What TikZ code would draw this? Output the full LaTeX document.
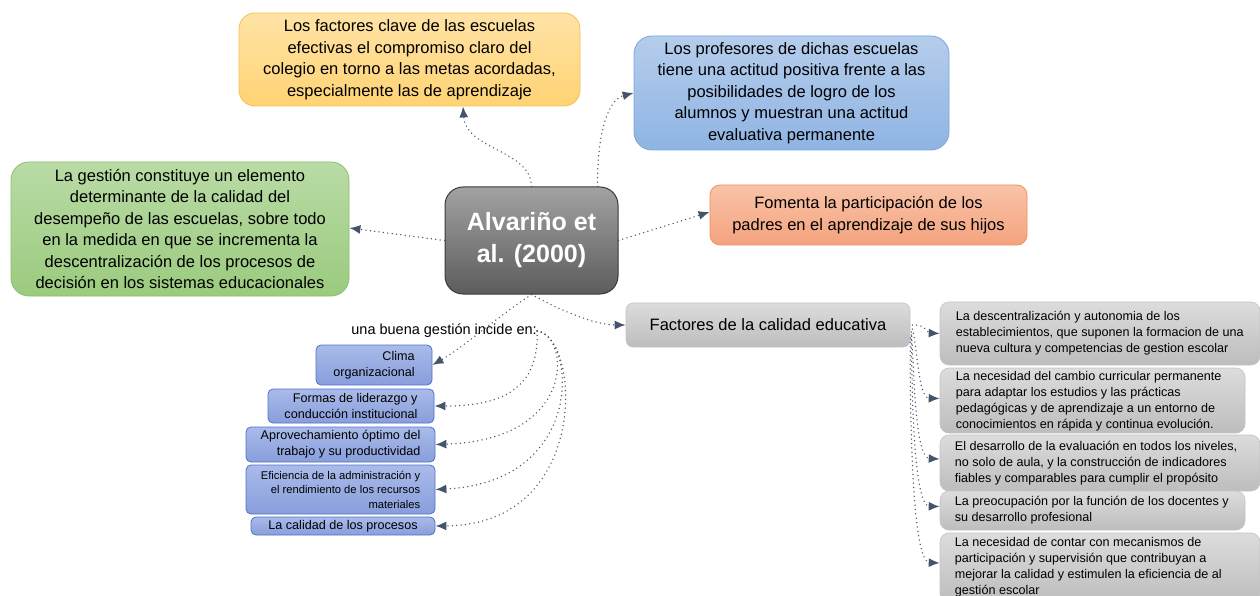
\documentclass[tikz,border=0pt]{standalone}
\usepackage{fontspec}
\setmainfont{Liberation Sans}
\usetikzlibrary{arrows.meta,calc}
\definecolor{conncol}{HTML}{44546A}
\definecolor{orT}{HTML}{FFE3A6}\definecolor{orB}{HTML}{FFD374}\definecolor{orD}{HTML}{F4C24F}
\definecolor{blT}{HTML}{B5CDEC}\definecolor{blB}{HTML}{8FB4E3}\definecolor{blD}{HTML}{7AA6DB}
\definecolor{grT}{HTML}{B9DBA6}\definecolor{grB}{HTML}{9BCB7E}\definecolor{grD}{HTML}{8BC06A}
\definecolor{ceT}{HTML}{A2A2A2}\definecolor{ceB}{HTML}{5C5C5C}\definecolor{ceD}{HTML}{3A3A3A}
\definecolor{saT}{HTML}{F9C3A8}\definecolor{saB}{HTML}{F4A37E}\definecolor{saD}{HTML}{F0925E}
\definecolor{gyT}{HTML}{DCDCDC}\definecolor{gyB}{HTML}{BDBDBD}\definecolor{gyD}{HTML}{C4C4C4}
\definecolor{sbT}{HTML}{AABBEA}\definecolor{sbB}{HTML}{889EDB}\definecolor{sbD}{HTML}{4E72C8}
\begin{document}
\begin{tikzpicture}[x=1pt,y=-1pt,
  bigtxt/.style={font=\fontsize{16.5}{21.5}\selectfont, align=center, inner sep=0pt, text=black},
  obox/.style={bigtxt, rounded corners=16pt, top color=orT, bottom color=orB, draw=orD, line width=0.8pt},
  tbbox/.style={bigtxt, rounded corners=18pt, top color=blT, bottom color=blB, draw=blD, line width=0.8pt},
  gbox/.style={bigtxt, rounded corners=18pt, top color=grT, bottom color=grB, draw=grD, line width=0.8pt},
  sbox/.style={bigtxt, rounded corners=10pt, top color=saT, bottom color=saB, draw=saD, line width=0.8pt},
  cbox/.style={font=\fontsize{25}{32}\selectfont\bfseries, text=white, align=center, inner sep=0pt,
    rounded corners=18pt, top color=ceT, bottom color=ceB, draw=ceD, line width=1pt},
  fbox/.style={bigtxt, rounded corners=7pt, top color=gyT, bottom color=gyB, draw=gyD, line width=0.6pt},
  rbox/.style={inner sep=0pt, rounded corners=9pt,
    top color=gyT, bottom color=gyB, draw=gyD, line width=0.6pt},
  rtxt/.style={font=\fontsize{12.6}{16}\selectfont, align=left, inner sep=0pt, anchor=west},
  smbox/.style={font=\fontsize{12.6}{16}\selectfont, align=right, inner sep=0pt, rounded corners=5pt,
    top color=sbT, bottom color=sbB, draw=sbD, line width=0.8pt},
  conn/.style={draw=conncol, line width=1.5pt, dash pattern=on 0pt off 4.4pt, line cap=round,
    -{Latex[length=11pt,width=9pt]}}
]
\useasboundingbox (0,0) rectangle (1260,596);
\clip (0,0) rectangle (1260,596);
\fill[white] (0,0) rectangle (1260,596);

% main nodes
\node[obox, minimum width=341pt, minimum height=93pt] (top) at (409.5,59.5)
  {Los factores clave de las escuelas\\efectivas el compromiso claro del\\colegio en torno a las metas acordadas,\\especialmente las de aprendizaje};
\node[tbbox, minimum width=315pt, minimum height=114pt] (prof) at (791.5,93)
  {Los profesores de dichas escuelas\\tiene una actitud positiva frente a las\\posibilidades de logro de los\\alumnos y muestran una actitud\\evaluativa permanente};
\node[gbox, minimum width=338pt, minimum height=134pt] (gest) at (180,229)
  {La gestión constituye un elemento\\determinante de la calidad del\\desempeño de las escuelas, sobre todo\\en la medida en que se incrementa la\\descentralización de los procesos de\\decisión en los sistemas educacionales};
\node[cbox, minimum width=173pt, minimum height=107pt] (c) at (531.5,240.5)
  {Alvariño et\\al. (2000)};
\node[sbox, minimum width=317pt, minimum height=60pt] (pad) at (868.5,215)
  {Fomenta la participación de los\\padres en el aprendizaje de sus hijos};
\node[fbox, minimum width=284pt, minimum height=44pt] (f) at (768,325)
  {Factores de la calidad educativa};

% right grey boxes
\node[rbox, minimum width=320pt, minimum height=63pt] (r1) at (1100,333.5) {};
\node[rbox, minimum width=305pt, minimum height=65pt] (r2) at (1092.5,400.5) {};
\node[rbox, minimum width=320pt, minimum height=56pt] (r3) at (1100,463) {};
\node[rbox, minimum width=305pt, minimum height=39pt] (r4) at (1092.5,510.5) {};
\node[rbox, minimum width=320pt, minimum height=70pt] (r5) at (1100,568) {};
\node[rtxt] (r1t) at ($(r1.west)+(16,0)$)
  {La descentralización y autonomia de los\\establecimientos, que suponen la formacion de una\\nueva cultura y competencias de gestion escolar};
\node[rtxt] (r2t) at ($(r2.west)+(16,1)$)
  {La necesidad del cambio curricular permanente\\para adaptar los estudios y las prácticas\\pedagógicas y de aprendizaje a un entorno de\\conocimientos en rápida y continua evolución.};
\node[rtxt] (r3t) at ($(r3.west)+(15,0)$)
  {El desarrollo de la evaluación en todos los niveles,\\no solo de aula, y la construcción de indicadores\\fiables y comparables para cumplir el propósito};
\node[rtxt] (r4t) at ($(r4.west)+(15,0)$)
  {La preocupación por la función de los docentes y\\su desarrollo profesional};
\node[rtxt] (r5t) at ($(r5.west)+(15,-1)$)
  {La necesidad de contar con mecanismos de\\participación y supervisión que contribuyan a\\mejorar la calidad y estimulen la eficiencia de al\\gestión escolar};

% label and small blue boxes
\node[font=\fontsize{14.5}{17}\selectfont, anchor=east, inner sep=0pt] (lab) at (537,331)
  {una buena gestión incide en:};
\node[smbox, minimum width=116pt, minimum height=40pt] (clima) at (374,365)
  {Clima\\organizacional};
\node[smbox, minimum width=166pt, minimum height=34pt] (formas) at (351,406)
  {Formas de liderazgo y\\conducción institucional};
\node[smbox, minimum width=189pt, minimum height=35pt] (aprov) at (340.5,444.5)
  {Aprovechamiento óptimo del\\trabajo y su productividad};
\node[smbox, minimum width=189pt, minimum height=49pt, font=\fontsize{11.2}{14.5}\selectfont] (efic) at (340.5,489.5)
  {Eficiencia de la administración y\\el rendimiento de los recursos\\materiales};
\node[smbox, minimum width=184pt, minimum height=18pt] (cal) at (343,526)
  {La calidad de los procesos};

% connectors from the centre
\draw[conn] (c.north) .. controls (531,150) and (466,150) .. ([xshift=53.5pt]top.south);
\draw[conn] ([xshift=-21pt]c.north east) .. controls (597,140) and (606,100) .. ([yshift=0pt]prof.west);
\draw[conn] (c.west) -- ([yshift=1pt]gest.east);
\draw[conn] (c.east) -- ([yshift=3pt]pad.west);
\draw[conn] (c.south) .. controls (552,306) and (592,325) .. (f.west);
\draw[conn] (c.south) .. controls (500,315) and (462,348) .. (clima.east);

% connectors from the label
\draw[conn] (lab.east) .. controls (540,395) and (492,406) .. (formas.east);
\draw[conn] (lab.east) .. controls (570,335) and (578,440) .. (aprov.east);
\draw[conn] (lab.east) .. controls (575,335) and (588,482) .. (efic.east);
\draw[conn] (lab.east) .. controls (580,335) and (592,525) .. (cal.east);

% connectors from Factores
\draw[conn] ($(f.east)+(2,0)$) .. controls (925,324) and (928,333) .. (r1.west);
\draw[conn] ($(f.east)+(2,4)$) .. controls (918,350) and (918,398) .. ($(r2.west)+(0,-2)$);
\draw[conn] ($(f.east)+(1,7)$) .. controls (914,360) and (914,458) .. ($(r3.west)+(0,-4)$);
\draw[conn] ($(f.east)+(1,10)$) .. controls (912,370) and (912,506) .. ($(r4.west)+(0,-4)$);
\draw[conn] ($(f.east)+(0,13)$) .. controls (910,380) and (910,562) .. ($(r5.west)+(0,-5)$);
\end{tikzpicture}
\end{document}
